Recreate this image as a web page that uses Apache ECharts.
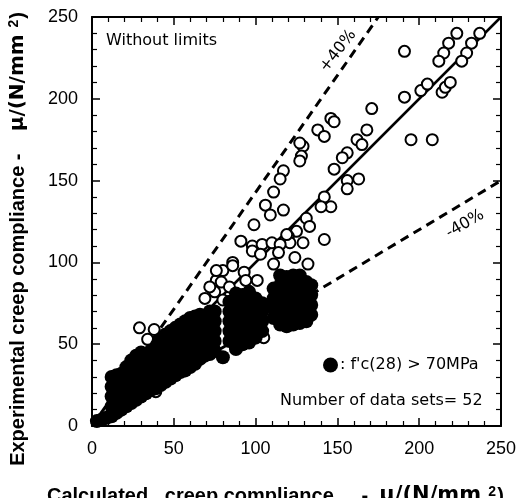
<!DOCTYPE html>
<html><head><meta charset="utf-8">
<script src="https://cdn.jsdelivr.net/npm/echarts@6/dist/echarts.min.js"></script>
<style>html,body{margin:0;padding:0;background:#fff}#c{width:524px;height:498px}</style>
</head><body><div id="c"></div>
<script>
// ---- data ----
const axisMin = 0, axisMax = 250, axisStep = 50;
const openPoints = [
  [223,240],[218,234],[215,228],[212,223],[237,240],[232,234],[229,228],[226,223],
  [191,229],[191,201],[201,205],[205,209],[214,204],[216,207],[219,210],
  [195,175],[208,175],[171,194],[146,188],[148,186],
  [138,181],[142,177],[168,181],[162,175],[165,172],[156,167],[153,164],[148,157],
  [129,171],[128,165],[127,173],[127,162],[117,156],[115,151],
  [156,150],[163,151],[156,145],[111,143],[106,135],[117,132],[109,129],[99,123],
  [142,140],[146,134],[140,134],[131,127],[133,122],[125,119],[120,116],[121,112],[142,114],
  [91,113],[98,110],[104,111],[110,112],[115,111],
  [98,107],[124,103],[132,99],[111,99],[86,100],[80,95],[93,94],[76,89],[101,89],
  [69,78],[75,82],[105,54],[79,88],[114,106],[119,117],[103,105],[84,79],[72,85],[84,85],[80,77],[94,89],
  [29,60],[34,53],[38,59],[76,95],[86,98],[39,21],[17,31],[129,112]
];
const filledPoints = [
  [3,3],[6,4],[9,5],
  [12,6],[12,12],[12,18],[12,24],[12,30],
  [15,8],[15,14],[15,20],[15,26],[15,31],
  [18,10],[18,16],[18,22],[18,28],[18,32],
  [21,12],[21,18],[21,24],[21,30],[21,36],
  [24,14],[24,20],[24,26],[24,32],[24,38],[24,40],
  [27,16],[27,22],[27,28],[27,34],[27,40],[27,43],
  [30,18],[30,24],[30,30],[30,36],[30,42],[30,45],
  [33,20],[33,26],[33,32],[33,38],[33,44],
  [36,22],[36,28],[36,34],[36,40],[36,46],
  [39,23],[39,29],[39,35],[39,41],[39,47],[40,50],
  [42,25],[42,31],[42,37],[42,43],[42,49],[42,53],
  [45,27],[45,33],[45,39],[45,45],[45,51],[45,56],
  [48,29],[48,35],[48,41],[48,47],[48,53],[48,58],
  [51,31],[51,37],[51,43],[51,49],[51,55],[51,60],
  [54,33],[54,39],[54,45],[54,51],[54,57],[54,62],
  [57,34],[57,40],[57,46],[57,52],[57,58],[57,64],
  [60,36],[60,42],[60,48],[60,54],[60,60],[60,66],
  [63,38],[63,44],[63,50],[63,56],[63,62],[63,67],
  [66,41],[66,47],[66,53],[66,59],[66,65],[66,68],
  [69,43],[69,49],[69,55],[69,61],[69,67],
  [72,44],[72,50],[72,56],[72,62],[72,68],[72,70],
  [75,46],[75,52],[75,58],[75,64],[75,70],
  [80,42],
  [84,52],[84,58],[84,64],[84,70],[84,76],
  [88,47],[88,53],[88,59],[88,65],[88,71],[88,77],[88,81],
  [92,50],[92,56],[92,62],[92,68],[92,74],[92,80],
  [96,51],[96,57],[96,63],[96,69],[96,75],[96,82],
  [100,54],[100,60],[100,66],[100,72],[100,78],
  [104,58],[104,64],[104,70],[104,75],
  [111,66],[111,72],[111,78],[111,84],
  [115,62],[115,68],[115,74],[115,80],[115,86],[115,92],
  [119,61],[119,67],[119,73],[119,79],[119,85],[119,91],
  [123,62],[123,68],[123,74],[123,80],[123,86],[123,92],
  [127,63],[127,69],[127,75],[127,81],[127,87],[127,92],
  [131,64],[131,70],[131,76],[131,82],[131,88],
  [134,68],[134,74],[134,80],[134,86]
];
const upperLine = [[0,0],[175,250]];
const equalLine = [[0,0],[250,250]];
const lowerLine = [[0,0],[250,150]];
const filledName = ": f'c(28) > 70MPa";

// ---- chart ----
const chart = echarts.init(document.getElementById('c'), null, {renderer:'canvas'});
const tickCommon = (pos, showLabel) => ({
  type:'value', position:pos, min:axisMin, max:axisMax, interval:axisStep,
  axisLine:{show:true, onZero:false, lineStyle:{color:'#000', width:2}},
  axisTick:{show:true, inside:true, length:8, lineStyle:{color:'#000', width:1.5}},
  minorTick:{show:true, splitNumber:5, length:5, lineStyle:{color:'#000', width:1.2}},
  splitLine:{show:false},
  axisLabel:{show:showLabel, color:'#000', fontFamily:'Liberation Sans', fontSize:18, margin: (pos==='left'?14:14)}
});
const TF = 'Liberation Sans';
chart.setOption({
  animation:false,
  backgroundColor:'#fff',
  grid:{left:92, right:23, top:17, bottom:72, containLabel:false},
  xAxis:[tickCommon('bottom', true), tickCommon('top', false)],
  yAxis:[tickCommon('left', true), tickCommon('right', false)],
  legend:{
    show:true, data:[{name:filledName, icon:'circle'}], selectedMode:false,
    left:323, top:357, padding:0, itemWidth:15, itemHeight:15, itemGap:0,
    textStyle:{fontFamily:'DejaVu Sans', fontSize:16, color:'#000', padding:[0,0,0,-3]}
  },
  series:[
    {type:'line', data:upperLine, symbol:'none', silent:true, lineStyle:{color:'#000', width:3, type:[9,6]}, z:1},
    {type:'line', data:equalLine, symbol:'none', silent:true, lineStyle:{color:'#000', width:2.5}, z:1},
    {type:'line', data:lowerLine, symbol:'none', silent:true, lineStyle:{color:'#000', width:3, type:[9,6]}, z:1},
    {type:'scatter', name:'open', data:openPoints, symbol:'circle', symbolSize:11,
     itemStyle:{color:'#fff', borderColor:'#000', borderWidth:2, opacity:1}, z:2},
    {type:'scatter', name:filledName, data:filledPoints, symbol:'circle', symbolSize:14,
     itemStyle:{color:'#000', opacity:1}, z:3}
  ],
  graphic:[
    {type:'text', x:106, y:41, style:{text:'Without limits', font:'16px "DejaVu Sans"', fill:'#000', align:'left', verticalAlign:'middle', textAlign:'left', textVerticalAlign:'middle'}},
    {type:'text', x:338, y:51, rotation:52*Math.PI/180, style:{text:'+40%', font:'16px "DejaVu Sans"', fill:'#000', align:'center', verticalAlign:'middle', textAlign:'center', textVerticalAlign:'middle'}},
    {type:'text', x:465, y:224, rotation:30*Math.PI/180, style:{text:'-40%', font:'16px "DejaVu Sans"', fill:'#000', align:'center', verticalAlign:'middle', textAlign:'center', textVerticalAlign:'middle'}},
    {type:'text', x:280, y:401, style:{text:'Number of data sets= 52', font:'16px "DejaVu Sans"', fill:'#000', align:'left', verticalAlign:'middle', textAlign:'left', textVerticalAlign:'middle'}},
    {type:'text', x:47, y:496, z:10, style:{
      text:'{a|Calculated   creep compliance     -  }{m|μ/(N/mm }{s|2}{a|)}',
      align:'left', verticalAlign:'middle', textAlign:'left', textVerticalAlign:'middle',
      rich:{
        a:{fontFamily:TF, fontWeight:'bold', fontSize:20, color:'#000', lineHeight:22},
        m:{fontFamily:'DejaVu Sans', fontWeight:'bold', fontSize:21, color:'#000', lineHeight:22},
        s:{fontFamily:TF, fontWeight:'bold', fontSize:14, color:'#000', verticalAlign:'top', lineHeight:22, padding:[0,1,8,0]}
      }}},
    {type:'text', x:18, y:12, rotation:Math.PI/2, z:10, style:{
      text:'{a|Experimental creep compliance -    }{m|μ/(N/mm }{s|2}{a|)}',
      align:'right', verticalAlign:'middle', textAlign:'right', textVerticalAlign:'middle',
      rich:{
        a:{fontFamily:TF, fontWeight:'bold', fontSize:20, color:'#000', lineHeight:22},
        m:{fontFamily:'DejaVu Sans', fontWeight:'bold', fontSize:20, color:'#000', lineHeight:22},
        s:{fontFamily:TF, fontWeight:'bold', fontSize:14, color:'#000', verticalAlign:'top', lineHeight:22, padding:[0,1,8,0]}
      }}}
  ]
});
</script>
</body></html>
